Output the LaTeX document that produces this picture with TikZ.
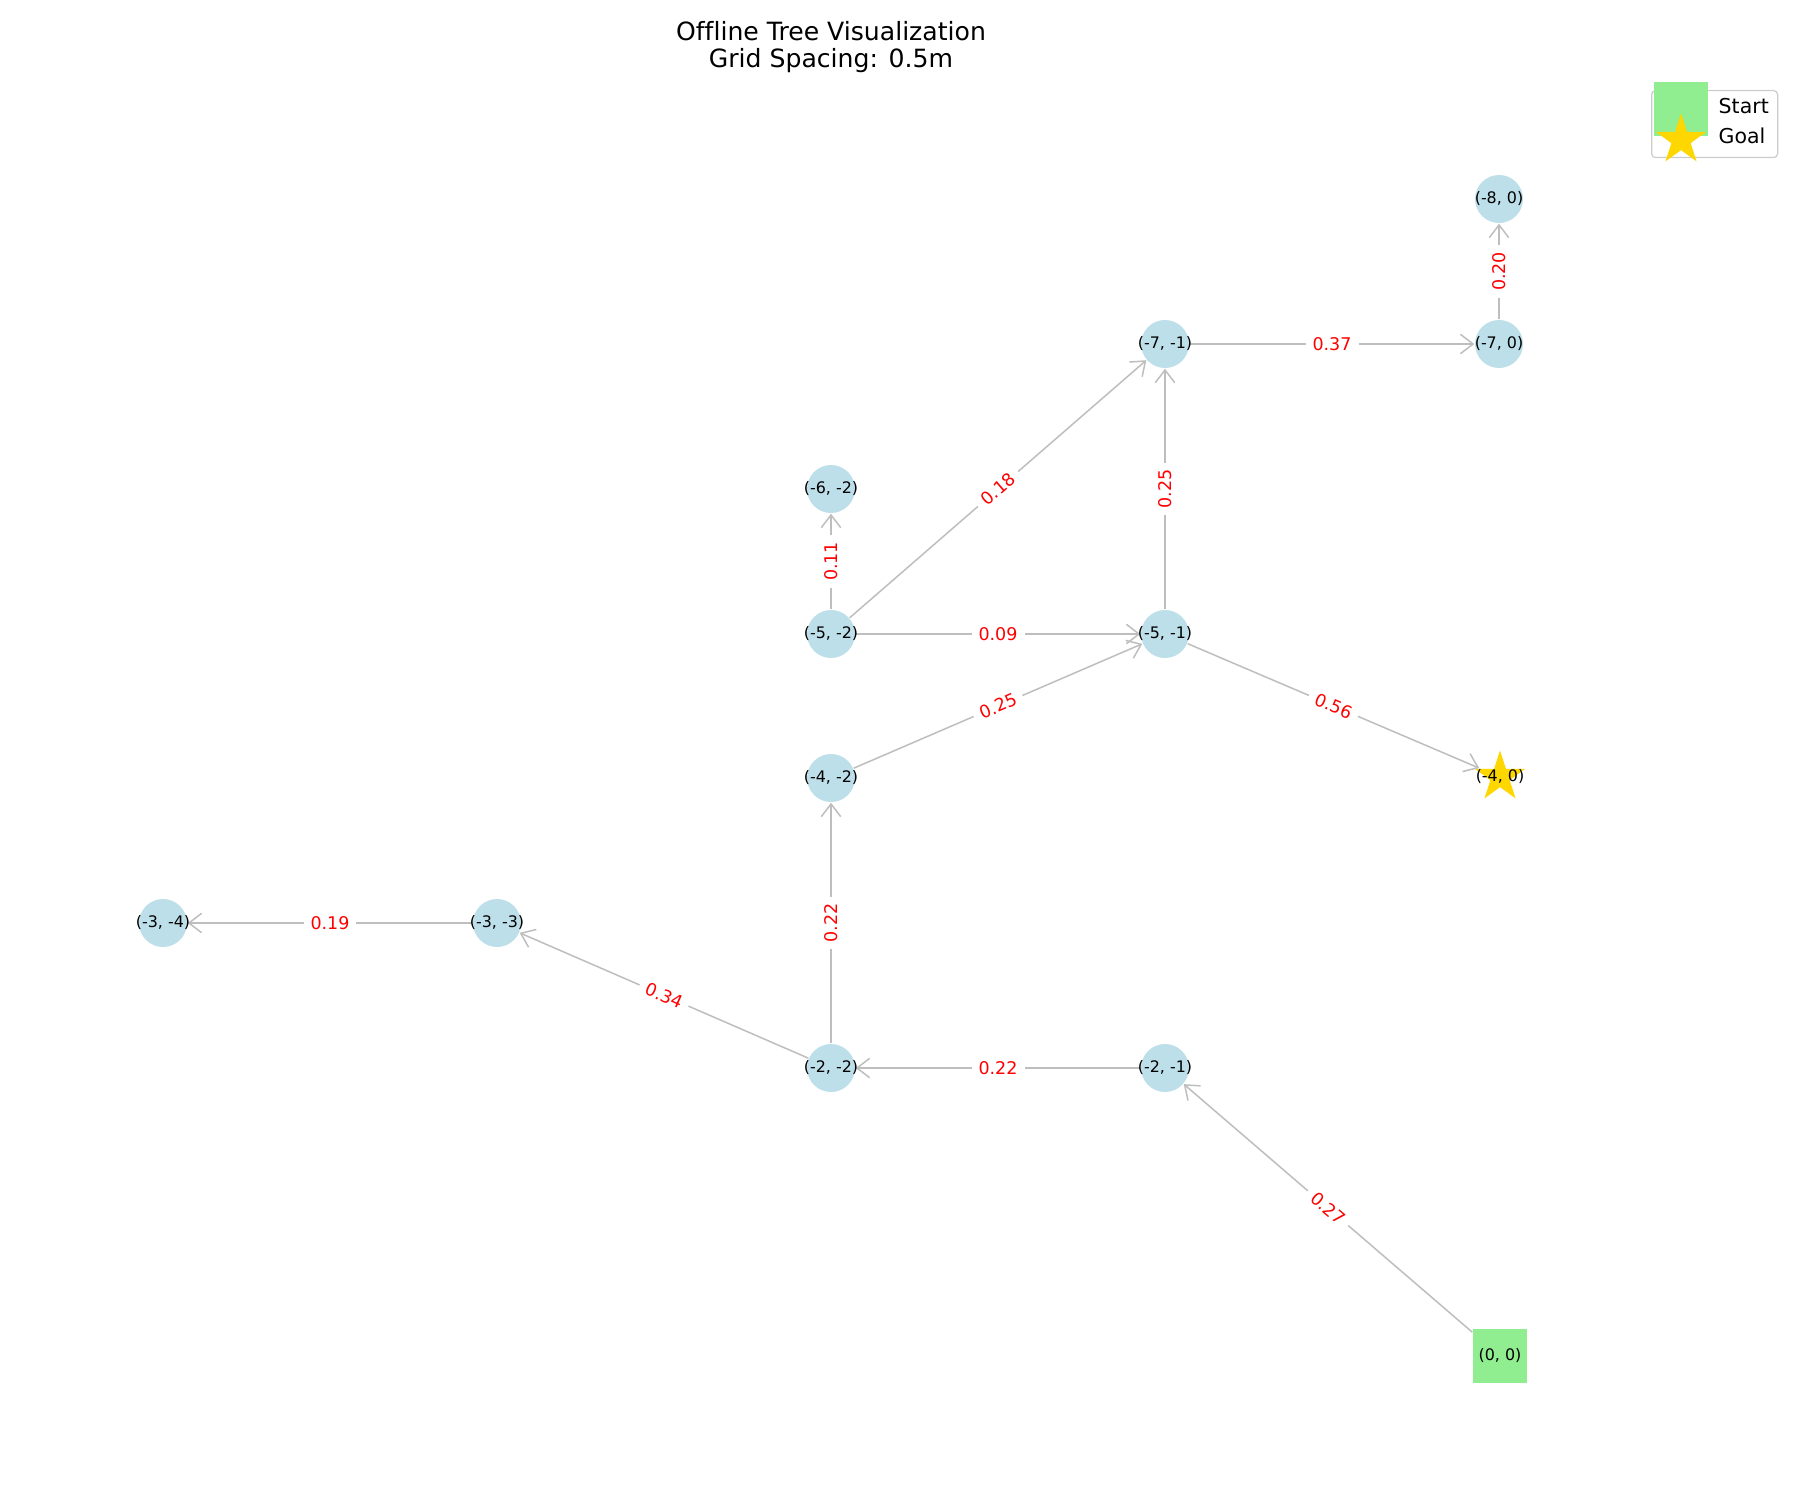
\documentclass[tikz,border=0pt]{standalone}
\usepackage{fontspec}
\setmainfont{DejaVu Sans}[Ligatures=NoCommon]
\usetikzlibrary{arrows.meta,shapes.geometric}
\definecolor{nodeblue}{RGB}{189,223,234}
\definecolor{startgreen}{RGB}{144,238,144}
\definecolor{goalgold}{RGB}{255,215,0}
\definecolor{edgegray}{RGB}{190,190,190}
\definecolor{legendgray}{RGB}{204,204,204}
\pgfdeclarelayer{fg}
\pgfsetlayers{main,fg}
\newcommand{\mynodefont}{\fontsize{4.52pt}{5.4pt}\selectfont}
\newcommand{\myedgefont}{\fontsize{4.98pt}{6pt}\selectfont}
\newcommand{\mytitlefont}{\fontsize{7.15pt}{8.6pt}\selectfont}
\newcommand{\mylegfont}{\fontsize{5.83pt}{7pt}\selectfont}
\tikzset{
  treenode/.style={circle, fill=nodeblue, minimum size=4.8mm, inner sep=0pt},
  startnode/.style={rectangle, fill=startgreen, minimum size=5.4mm, inner sep=0pt},
  goalnode/.style={star, star points=5, star point ratio=2.618, fill=goalgold, minimum size=5.3mm, inner sep=0pt},
  nodetext/.style={font=\mynodefont, text=black, inner sep=0pt},
  treeedge/.style={draw=edgegray, line width=0.43pt, -{Straight Barb[length=1.27mm, width=1.94mm]}},
  wlabel/.style={midway, sloped, fill=white, text=red, font=\myedgefont, inner sep=0.7mm},
}
\begin{document}
\begin{tikzpicture}[x=0.1mm, y=-0.1mm]
\useasboundingbox (0,0) rectangle (1800,1500);
% title
\node[anchor=base, font=\mytitlefont, inner sep=0pt] (title1) at (831,41) {Offline Tree Visualization};
\node[anchor=base, font=\mytitlefont, inner sep=0pt] (title2) at (831,68) {Grid Spacing: 0.5m};
% nodes
\node[treenode] (a80) at (1499,199) {};
\node[treenode] (a70) at (1499,344) {};
\node[treenode] (a7m1) at (1165,344) {};
\node[treenode] (a6m2) at (831,489) {};
\node[treenode] (a5m2) at (831,634) {};
\node[treenode] (a5m1) at (1165,634) {};
\node[treenode] (a4m2) at (831,778) {};
\node[goalnode] (a40) at (1500,777) {};
\node[treenode] (a3m4) at (163,923) {};
\node[treenode] (a3m3) at (497,923) {};
\node[treenode] (a2m2) at (831,1068) {};
\node[treenode] (a2m1) at (1165,1068) {};
\node[startnode] (a00) at (1500,1356) {};
% edges
\draw[treeedge] (a00) -- node[wlabel] {0.27} (a2m1);
\draw[treeedge] (a2m1) -- node[wlabel] {0.22} (a2m2);
\draw[treeedge] (a2m2) -- node[wlabel] {0.34} (a3m3);
\draw[treeedge] (a2m2) -- node[wlabel] {0.22} (a4m2);
\draw[treeedge] (a3m3) -- node[wlabel] {0.19} (a3m4);
\draw[treeedge] (a4m2) -- node[wlabel] {0.25} (a5m1);
\draw[treeedge] (a5m2) -- node[wlabel] {0.09} (a5m1);
\draw[treeedge] (a5m2) -- node[wlabel] {0.11} (a6m2);
\draw[treeedge] (a5m2) -- node[wlabel] {0.18} (a7m1);
\draw[treeedge] (a5m1) -- node[wlabel] {0.25} (a7m1);
\draw[treeedge] (a5m1) -- node[wlabel] {0.56} (a40);
\draw[treeedge] (a7m1) -- node[wlabel] {0.37} (a70);
\draw[treeedge] (a70) -- node[wlabel] {0.20} (a80);
% node texts
\begin{pgfonlayer}{fg}
\node[nodetext] (t80) at (a80) {(-8, 0)};
\node[nodetext] (t70) at (a70) {(-7, 0)};
\node[nodetext] (t7m1) at (a7m1) {(-7, -1)};
\node[nodetext] (t6m2) at (a6m2) {(-6, -2)};
\node[nodetext] (t5m2) at (a5m2) {(-5, -2)};
\node[nodetext] (t5m1) at (a5m1) {(-5, -1)};
\node[nodetext] (t4m2) at (a4m2) {(-4, -2)};
\node[nodetext] (t40) at (a40) {(-4, 0)};
\node[nodetext] (t3m4) at (a3m4) {(-3, -4)};
\node[nodetext] (t3m3) at (a3m3) {(-3, -3)};
\node[nodetext] (t2m2) at (a2m2) {(-2, -2)};
\node[nodetext] (t2m1) at (a2m1) {(-2, -1)};
\node[nodetext] (t00) at (a00) {(0, 0)};
\end{pgfonlayer}
% legend
\node[draw=legendgray, line width=0.35pt, rounded corners=0.4mm, fill=white, minimum width=12.6mm, minimum height=6.7mm, inner sep=0pt, anchor=north west] (legbox) at (1651,90) {};
\node[fill=startgreen, minimum width=5.4mm, minimum height=5.4mm, inner sep=0pt, anchor=north west] (legstart) at (1653,81) {};
\node[goalnode] (leggoal) at (1681,140) {};
\node[anchor=base west, font=\mylegfont, inner sep=0pt] (legstarttext) at (1718,114) {Start};
\node[anchor=base west, font=\mylegfont, inner sep=0pt] (leggoaltext) at (1718,144) {Goal};
\end{tikzpicture}
\end{document}
